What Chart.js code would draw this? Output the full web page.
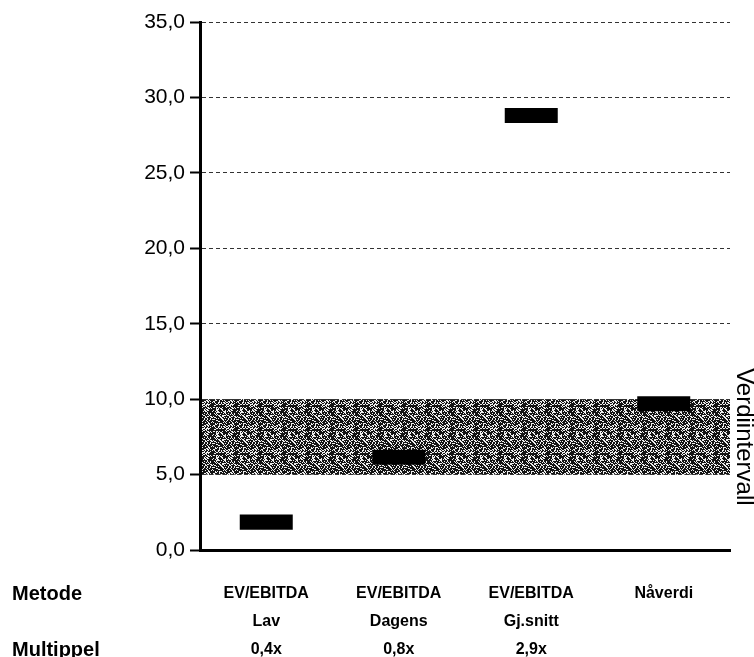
<!DOCTYPE html>
<html>
<head>
<meta charset="utf-8">
<script src="https://cdn.jsdelivr.net/npm/chart.js@4.4.0/dist/chart.umd.min.js"></script>
<style>
html,body{margin:0;padding:0;background:#fff;}
#wrap{width:754px;height:657px;position:relative;}
</style>
</head>
<body>
<div id="wrap"><canvas id="c" width="754" height="657"></canvas></div>
<script>
// ---- data ----
const methodLine1 = ['EV/EBITDA', 'EV/EBITDA', 'EV/EBITDA', 'Nåverdi'];
const methodLine2 = ['Lav', 'Dagens', 'Gj.snitt', ''];
const multiples   = ['0,4x', '0,8x', '2,9x', ''];
const markerLow   = [1.35, 5.65, 28.3, 9.2];
const markerHigh  = [2.35, 6.65, 29.3, 10.2];
const bandRange   = [5, 10];
const bandLabel   = 'Verdiintervall';
const rowLabels   = ['Metode', 'Multippel'];
const yTicks      = [0, 5, 10, 15, 20, 25, 30, 35];

const FONT = "'Liberation Sans', Arial, Helvetica, sans-serif";

const labels = methodLine1.map((m, i) => {
  const arr = [m];
  if (methodLine2[i]) arr.push(methodLine2[i]);
  if (multiples[i]) arr.push(multiples[i]);
  return arr;
});
const floating = markerLow.map((lo, i) => [lo, markerHigh[i]]);

// stipple texture for the value band (deterministic hash, purely decorative)
function makePattern(ctx) {
  const n = 24;
  const p = document.createElement('canvas');
  p.width = n; p.height = n;
  const pc = p.getContext('2d');
  pc.fillStyle = '#eeeeee';
  pc.fillRect(0, 0, n, n);
  pc.fillStyle = '#141414';
  for (let y = 0; y < n; y++) {
    for (let x = 0; x < n; x++) {
      let h = (x * 374761393 + y * 668265263) | 0;
      h = Math.imul(h ^ (h >>> 13), 1274126177);
      h = (h ^ (h >>> 16)) >>> 0;
      const r = (h % 1000) / 1000;
      const diag = ((x - y) % 3 + 3) % 3 === 0 ? 0.4 : 0;
      if (r + diag > 0.5) pc.fillRect(x, y, 1, 1);
    }
  }
  return ctx.createPattern(p, 'repeat');
}

const bandPlugin = {
  id: 'band',
  beforeDraw(chart) {
    const {ctx, chartArea, scales} = chart;
    const yTop = scales.y.getPixelForValue(bandRange[1]);
    const yBot = scales.y.getPixelForValue(bandRange[0]);
    ctx.save();
    ctx.fillStyle = makePattern(ctx);
    ctx.fillRect(chartArea.left, yTop, chartArea.right - chartArea.left, yBot - yTop);
    ctx.restore();
  },
  afterDraw(chart) {
    const {ctx, chartArea, scales} = chart;
    const yTop = scales.y.getPixelForValue(bandRange[1]);
    const yBot = scales.y.getPixelForValue(bandRange[0]);
    ctx.save();
    ctx.translate(chartArea.right + 14, (yTop + yBot) / 2);
    ctx.rotate(Math.PI / 2);
    ctx.fillStyle = '#000';
    ctx.font = '24px ' + FONT;
    ctx.textAlign = 'center';
    ctx.textBaseline = 'middle';
    ctx.fillText(bandLabel, 0, 0);
    ctx.restore();

    // row labels
    ctx.save();
    ctx.fillStyle = '#000';
    ctx.font = 'bold 20px ' + FONT;
    ctx.textAlign = 'left';
    ctx.textBaseline = 'middle';
    const b = chartArea.bottom;
    ctx.fillText(rowLabels[0], 12, b + 44);
    ctx.fillText(rowLabels[1], 12, b + 100);
    ctx.restore();
  }
};

new Chart(document.getElementById('c'), {
  type: 'bar',
  data: {
    labels: labels,
    datasets: [{
      data: floating,
      backgroundColor: '#000',
      borderWidth: 0,
      barPercentage: 0.4,
      categoryPercentage: 1.0
    }]
  },
  options: {
    responsive: false,
    animation: false,
    devicePixelRatio: 1,
    layout: {padding: {top: 22, right: 24, bottom: 0, left: 0}},
    plugins: {legend: {display: false}, tooltip: {enabled: false}},
    scales: {
      x: {
        grid: {display: false},
        border: {display: true, color: '#000', width: 3},
        ticks: {
          color: '#000',
          padding: 22,
          maxRotation: 0,
          autoSkip: false,
          font: {family: FONT, size: 16, weight: 'bold', lineHeight: 1.75}
        },
        afterFit(s) { s.height = 107; }
      },
      y: {
        min: 0, max: 35,
        afterBuildTicks(s) { s.ticks = yTicks.map(v => ({value: v})); },
        grid: {
          color: '#333', lineWidth: 1,
          tickColor: '#000', tickWidth: 2, tickLength: 10,
          tickBorderDash: []
        },
        border: {display: true, color: '#000', width: 3, dash: [4, 3]},
        ticks: {
          color: '#000',
          padding: 5,
          font: {family: FONT, size: 21},
          callback: v => Number(v).toFixed(1).replace('.', ',')
        },
        afterFit(s) { s.width = 200; }
      }
    }
  },
  plugins: [bandPlugin]
});
</script>
</body>
</html>
